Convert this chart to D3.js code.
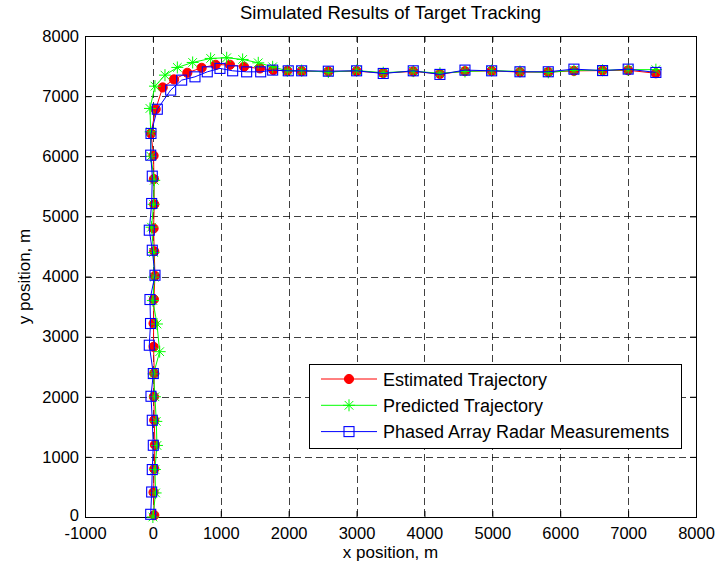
<!DOCTYPE html>
<html>
  <head>
    <meta charset="UTF-8" />
    <style>
      body {
        margin: 0;
        background: #fff;
        font-family: "Liberation Sans", Arial, sans-serif;
      }
      svg text {
        font-family: "Liberation Sans", Arial, sans-serif;
        fill: #000;
      }
    </style>
  </head>
  <body>
    <svg></svg>
    <script src="https://d3js.org/d3.v7.min.js"></script>
    <script>
      let width = 720,
        height = 569;

      // tick values
      let xTicks = [-1000, 0, 1000, 2000, 3000, 4000, 5000, 6000, 7000, 8000];
      let yTicks = [0, 1000, 2000, 3000, 4000, 5000, 6000, 7000, 8000];

      // Phased array radar measurements (blue squares)
      let measX = [-32, -18, -9, 6, -9, -28, 6, -53, -35, -43, 31, -9, -53, -18, -9, -32, -28,
        65, 262, 424, 620, 801, 988, 1175, 1381, 1588, 1764,
        1994, 2191, 2584, 3001, 3393, 3835, 4228, 4597, 4990, 5407, 5824, 6202, 6624, 7001, 7409];
      let measY = [45, 416, 789, 1193, 1609, 2008, 2386, 2857, 3218, 3617, 4021, 4437, 4770, 5214, 5669, 6018, 6379,
        6782, 7100, 7266, 7321, 7404, 7461, 7421, 7404, 7404, 7433,
        7421, 7421, 7415, 7421, 7377, 7421, 7361, 7433, 7421, 7405, 7405, 7449, 7425, 7449, 7394];

      // Estimated trajectory (red circles)
      let estX = [20, 10, 20, 30, 20, 15, 20, 10, 10, 15, 30, 20, 10, 20, 15, 10, -28,
        41, 144, 311, 507, 718, 924, 1135, 1342, 1577, 1773,
        1980, 2191, 2584, 3001, 3393, 3835, 4228, 4597, 4990, 5407, 5824, 6202, 6624, 7001, 7409];
      let estY = [30, 410, 800, 1200, 1610, 2000, 2390, 2830, 3220, 3620, 4010, 4420, 4800, 5200, 5620, 6010, 6379,
        6782, 7144, 7278, 7388, 7471, 7521, 7521, 7488, 7461, 7433,
        7421, 7415, 7410, 7415, 7385, 7410, 7370, 7415, 7420, 7400, 7400, 7420, 7425, 7430, 7380];

      // Predicted trajectory (green stars)
      let predX = [0, 40, 30, 60, 50, 30, 10, 100, 60, 0, 20, 10, -20, 10, 20, -30, -33,
        -43, 31, 178, 360, 586, 851, 1087, 1322, 1552, 1764,
        1980, 2191, 2584, 3001, 3393, 3835, 4228, 4597, 4990, 5407, 5824, 6202, 6624, 7001, 7409];
      let predY = [0, 400, 790, 1190, 1590, 2000, 2380, 2750, 3210, 3600, 3990, 4400, 4820, 5200, 5600, 6000, 6406,
        6795, 7166, 7349, 7477, 7560, 7627, 7638, 7610, 7554, 7488,
        7421, 7425, 7400, 7425, 7390, 7415, 7380, 7410, 7425, 7410, 7395, 7430, 7430, 7440, 7440];

      let legendLabels = [
        "Estimated Trajectory",
        "Predicted Trajectory",
        "Phased Array Radar Measurements",
      ];

      let mLeft = 85,
        mRight = 696,
        mTop = 36,
        mBottom = 517;

      let svg = d3.select("svg").attr("width", width).attr("height", height);

      let x = d3.scaleLinear().domain([-1000, 8000]).range([mLeft, mRight]);
      let y = d3.scaleLinear().domain([0, 8000]).range([mBottom, mTop]);

      //Grid
      let grid = svg.append("g").attr("class", "grid");
      grid
        .selectAll(".gx")
        .data(xTicks.slice(1, -1))
        .enter()
        .append("line")
        .attr("x1", (d) => Math.round(x(d)) + 0.5)
        .attr("x2", (d) => Math.round(x(d)) + 0.5)
        .attr("y1", mTop)
        .attr("y2", mBottom)
        .attr("stroke", "#000")
        .attr("stroke-opacity", 0.75)
        .attr("stroke-dasharray", "7,4");
      grid
        .selectAll(".gy")
        .data(yTicks.slice(1, -1))
        .enter()
        .append("line")
        .attr("x1", mLeft)
        .attr("x2", mRight)
        .attr("y1", (d) => Math.round(y(d)) + 0.5)
        .attr("y2", (d) => Math.round(y(d)) + 0.5)
        .attr("stroke", "#000")
        .attr("stroke-opacity", 0.75)
        .attr("stroke-dasharray", "7,4");

      //Axes, ticks point inward like matlab
      let fmt = (d) => String(d);
      let axB = svg
        .append("g")
        .attr("transform", "translate(0," + mBottom + ")")
        .call(d3.axisBottom(x).tickValues(xTicks).tickSize(-6).tickPadding(10).tickFormat(fmt));
      let axL = svg
        .append("g")
        .attr("transform", "translate(" + mLeft + ",0)")
        .call(d3.axisLeft(y).tickValues(yTicks).tickSize(-6).tickPadding(6).tickFormat(fmt));
      let axT = svg
        .append("g")
        .attr("transform", "translate(0," + mTop + ")")
        .call(d3.axisTop(x).tickValues(xTicks).tickSize(-6).tickFormat(""));
      let axR = svg
        .append("g")
        .attr("transform", "translate(" + mRight + ",0)")
        .call(d3.axisRight(y).tickValues(yTicks).tickSize(-6).tickFormat(""));

      [axB, axL, axT, axR].forEach((a) => {
        a.select(".domain").remove();
        a.selectAll("text").attr("font-size", 16.5).attr("font-family", null);
      });
      // lift the bottom-left "0" slightly so it clears "-1000"
      axL.selectAll(".tick text").filter((d) => d == 0).attr("dy", "0.22em");

      svg
        .append("rect")
        .attr("x", mLeft + 0.5)
        .attr("y", mTop + 0.5)
        .attr("width", mRight - mLeft)
        .attr("height", mBottom - mTop)
        .attr("fill", "none")
        .attr("stroke", "#000");

      //Marker shapes
      function starPath(s) {
        let k = s * 0.72;
        return (
          "M" + -s + ",0L" + s + ",0M0," + -s + "L0," + s +
          "M" + -k + "," + -k + "L" + k + "," + k +
          "M" + -k + "," + k + "L" + k + "," + -k
        );
      }

      let series = [
        { name: legendLabels[0], xs: estX, ys: estY, color: "#ff0000", marker: "circle" },
        { name: legendLabels[1], xs: predX, ys: predY, color: "#00ff00", marker: "star" },
        { name: legendLabels[2], xs: measX, ys: measY, color: "#0000ff", marker: "square" },
      ];

      function drawMarker(g, type, color) {
        if (type == "circle") {
          g.append("circle").attr("r", 4.6).attr("fill", color).attr("stroke", color);
        } else if (type == "star") {
          g.append("path").attr("d", starPath(6)).attr("fill", "none").attr("stroke", color).attr("stroke-width", 1);
        } else {
          g.append("rect")
            .attr("x", -5)
            .attr("y", -5)
            .attr("width", 10)
            .attr("height", 10)
            .attr("fill", "none")
            .attr("stroke", color)
            .attr("stroke-width", 1.1);
        }
      }

      let line = d3
        .line()
        .x((d) => x(d[0]))
        .y((d) => y(d[1]));

      series.forEach((s) => {
        let pts = s.xs.map((v, i) => [v, s.ys[i]]);
        let g = svg.append("g");
        g.append("path")
          .datum(pts)
          .attr("d", line)
          .attr("fill", "none")
          .attr("stroke", s.color)
          .attr("stroke-width", 1);
        g.selectAll(".mk")
          .data(pts)
          .enter()
          .append("g")
          .attr("transform", (d) => "translate(" + x(d[0]) + "," + y(d[1]) + ")")
          .each(function () {
            drawMarker(d3.select(this), s.marker, s.color);
          });
      });

      //Legend
      let lg = svg.append("g").attr("class", "legend");
      lg.append("rect")
        .attr("x", 309.5)
        .attr("y", 364.5)
        .attr("width", 372)
        .attr("height", 84)
        .attr("fill", "#fff")
        .attr("stroke", "#000");
      series.forEach((s, i) => {
        let ly = 379 + i * 26.3;
        lg.append("line")
          .attr("x1", 321)
          .attr("x2", 377)
          .attr("y1", ly)
          .attr("y2", ly)
          .attr("stroke", s.color);
        drawMarker(lg.append("g").attr("transform", "translate(349," + ly + ")"), s.marker, s.color);
        lg.append("text")
          .attr("x", 383)
          .attr("y", ly + 6.5)
          .attr("font-size", 18)
          .text(s.name);
      });

      //Labels
      svg
        .append("text")
        .attr("x", (mLeft + mRight) / 2)
        .attr("y", 19)
        .attr("text-anchor", "middle")
        .attr("font-size", 18.5)
        .text("Simulated Results of Target Tracking");
      svg
        .append("text")
        .attr("x", (mLeft + mRight) / 2)
        .attr("y", 558)
        .attr("text-anchor", "middle")
        .attr("font-size", 17)
        .text("x position, m");
      svg
        .append("text")
        .attr("transform", "translate(30," + (mTop + mBottom) / 2 + ") rotate(-90)")
        .attr("text-anchor", "middle")
        .attr("font-size", 17)
        .text("y position, m");
    </script>
  </body>
</html>
